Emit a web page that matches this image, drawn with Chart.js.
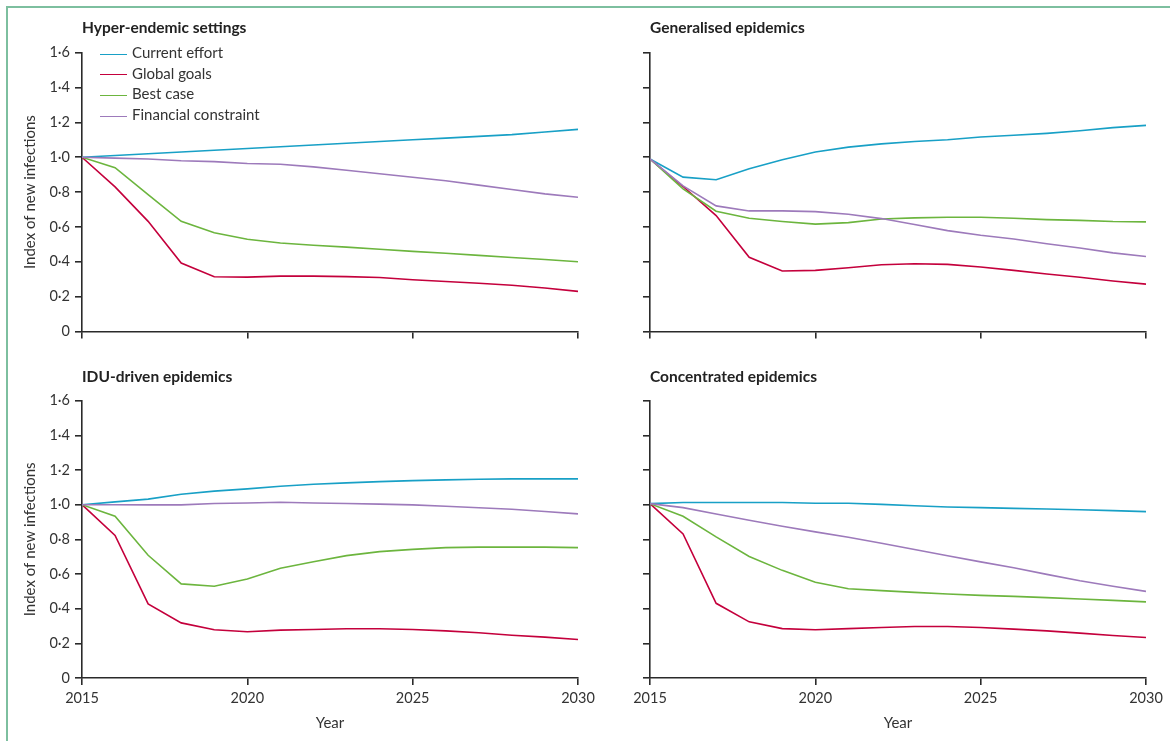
<!DOCTYPE html>
<html>
<head>
<meta charset="utf-8">
<script src="https://cdn.jsdelivr.net/npm/chart.js@4"></script>
<style>
  body { margin: 0; background: #fff; font-family: Lato, "Open Sans", sans-serif; }
  #page { position: relative; width: 1170px; height: 741px; overflow: hidden; }
  #frame { position: absolute; left: 6px; top: 6px; right: -4px; bottom: -4px;
           border-left: 2px solid #7dbf9f; border-top: 2px solid #7dbf9f; }
  canvas { position: absolute; }
  .title { position: absolute; font-weight: bold; font-size: 15.5px; color: #222; }
  #legend { position: absolute; left: 100px; top: 42px; font-size: 15px; color: #333; }
  #legend div { height: 20.7px; line-height: 20px; white-space: nowrap; }
  #legend span { display: inline-block; width: 27px; height: 0; border-top: 1.5px solid; vertical-align: middle; margin-right: 5px; }
</style>
</head>
<body>
<div id="page">
  <div id="frame"></div>
  <canvas id="c1"></canvas>
  <canvas id="c2"></canvas>
  <canvas id="c3"></canvas>
  <canvas id="c4"></canvas>
  <div class="title" style="left:82px;top:18px">Hyper-endemic settings</div>
  <div class="title" style="left:650px;top:18px">Generalised epidemics</div>
  <div class="title" style="left:82px;top:367px">IDU-driven epidemics</div>
  <div class="title" style="left:650px;top:367px">Concentrated epidemics</div>
  <div id="legend"></div>
</div>
<script>
const years = [2015, 2016, 2017, 2018, 2019, 2020, 2021, 2022, 2023, 2024, 2025, 2026, 2027, 2028, 2029, 2030]
const seriesNames = ['Current effort', 'Global goals', 'Best case', 'Financial constraint']
const seriesColors = ['#18a0c6', '#c4003c', '#6cb53e', '#9d7abb']

// Hyper-endemic settings
const hyperCurrent = [1.0, 1.01, 1.02, 1.03, 1.04, 1.05, 1.06, 1.07, 1.08, 1.09, 1.10, 1.11, 1.12, 1.13, 1.145, 1.16]
const hyperGoals = [1.0, 0.83, 0.632, 0.393, 0.314, 0.312, 0.318, 0.318, 0.315, 0.31, 0.297, 0.287, 0.277, 0.265, 0.25, 0.23]
const hyperBest = [1.0, 0.94, 0.785, 0.632, 0.567, 0.529, 0.508, 0.495, 0.484, 0.472, 0.46, 0.449, 0.437, 0.425, 0.413, 0.40]
const hyperFinance = [1.0, 0.995, 0.99, 0.98, 0.975, 0.964, 0.96, 0.945, 0.925, 0.905, 0.885, 0.865, 0.84, 0.815, 0.79, 0.77]

// Generalised epidemics
const genCurrent = [0.99, 0.886, 0.871, 0.934, 0.986, 1.03, 1.058, 1.077, 1.09, 1.10, 1.116, 1.126, 1.137, 1.152, 1.17, 1.183]
const genGoals = [0.99, 0.832, 0.665, 0.426, 0.347, 0.351, 0.366, 0.383, 0.389, 0.385, 0.37, 0.351, 0.33, 0.311, 0.29, 0.272]
const genBest = [0.99, 0.819, 0.69, 0.65, 0.631, 0.616, 0.625, 0.646, 0.652, 0.656, 0.656, 0.65, 0.642, 0.638, 0.631, 0.629]
const genFinance = [0.99, 0.836, 0.721, 0.692, 0.692, 0.688, 0.673, 0.648, 0.614, 0.579, 0.552, 0.531, 0.504, 0.479, 0.451, 0.43]

// IDU-driven epidemics
const iduCurrent = [1.0, 1.016, 1.032, 1.06, 1.078, 1.091, 1.106, 1.118, 1.126, 1.133, 1.139, 1.143, 1.147, 1.149, 1.149, 1.149]
const iduGoals = [1.0, 0.823, 0.428, 0.318, 0.278, 0.267, 0.276, 0.28, 0.284, 0.284, 0.28, 0.272, 0.261, 0.247, 0.236, 0.222]
const iduBest = [1.0, 0.934, 0.708, 0.543, 0.529, 0.571, 0.633, 0.671, 0.706, 0.729, 0.742, 0.752, 0.755, 0.755, 0.755, 0.752]
const iduFinance = [1.0, 1.0, 0.999, 0.999, 1.007, 1.01, 1.014, 1.01, 1.007, 1.003, 0.999, 0.991, 0.982, 0.974, 0.961, 0.947]

// Concentrated epidemics
const concCurrent = [1.006, 1.013, 1.013, 1.013, 1.013, 1.008, 1.008, 1.002, 0.994, 0.987, 0.983, 0.979, 0.975, 0.971, 0.966, 0.96]
const concGoals = [1.006, 0.831, 0.431, 0.324, 0.285, 0.278, 0.285, 0.291, 0.297, 0.297, 0.291, 0.282, 0.272, 0.259, 0.245, 0.234]
const concBest = [1.006, 0.933, 0.814, 0.701, 0.621, 0.552, 0.515, 0.504, 0.494, 0.485, 0.477, 0.471, 0.464, 0.456, 0.448, 0.439]
const concFinance = [1.006, 0.983, 0.946, 0.91, 0.876, 0.843, 0.812, 0.778, 0.741, 0.705, 0.67, 0.636, 0.598, 0.561, 0.529, 0.5]

const yMin = 0
const yMax = 1.6
const yStep = 0.2
const xStep = 5

const axisColor = '#2a2a2a'
const tickFont = { family: 'Lato, "Open Sans", sans-serif', size: 14.5 }
const titleFont = { family: 'Lato, "Open Sans", sans-serif', size: 15 }

function fmtIndex(v) {
  if (Math.abs(v) < 1e-9) return '0'
  return v.toFixed(1).replace('.', '\u00b7')
}

function makePanel(id, box, series, opts) {
  const canvas = document.getElementById(id)
  canvas.style.left = box.left + 'px'
  canvas.style.top = box.top + 'px'
  canvas.width = box.width
  canvas.height = box.height

  const datasets = series.map((vals, i) => ({
    label: seriesNames[i],
    data: years.map((yr, j) => ({ x: yr, y: vals[j] })),
    borderColor: seriesColors[i],
    borderWidth: 1.6,
    pointRadius: 0,
    tension: 0,
    fill: false
  }))
  // draw purple and green under blue/red like the print
  const order = [3, 2, 0, 1]
  datasets.forEach((d, i) => { d.order = order.indexOf(i) })

  return new Chart(canvas, {
    type: 'line',
    data: { datasets },
    options: {
      responsive: false,
      animation: false,
      events: [],
      layout: { padding: box.padding },
      plugins: { legend: { display: false }, tooltip: { enabled: false } },
      scales: {
        x: {
          type: 'linear',
          min: 2015,
          max: 2030,
          afterFit: s => { s.height = box.xHeight },
          border: { display: true, color: axisColor, width: 1.6 },
          grid: { drawOnChartArea: false, drawTicks: true, tickLength: 7, color: axisColor, lineWidth: 1.6 },
          ticks: {
            display: opts.xLabels,
            stepSize: xStep,
            padding: 5,
            color: '#333',
            font: tickFont,
            callback: v => String(v)
          },
          title: {
            display: opts.xLabels,
            text: 'Year',
            color: '#333',
            font: titleFont,
            padding: { top: 4, bottom: 8 }
          }
        },
        y: {
          min: yMin,
          max: yMax,
          afterFit: s => { s.width = box.yWidth },
          border: { display: true, color: axisColor, width: 1.6 },
          grid: { drawOnChartArea: false, drawTicks: true, tickLength: 7, color: axisColor, lineWidth: 1.6 },
          ticks: {
            display: opts.yLabels,
            stepSize: yStep,
            padding: 5,
            color: '#333',
            font: tickFont,
            callback: v => fmtIndex(v)
          },
          title: {
            display: opts.yLabels,
            text: 'Index of new infections',
            color: '#333',
            font: titleFont,
            padding: { top: 9, bottom: 0 }
          }
        }
      }
    }
  })
}

const topBox = { top: 0, height: 370, xHeight: 38.5 }
const botBox = { top: 350, height: 390, xHeight: 62 }

makePanel('c1', Object.assign({ left: 0, width: 600, yWidth: 70,
  padding: { left: 12, right: 22, top: 52.7, bottom: 0 } }, topBox),
  [hyperCurrent, hyperGoals, hyperBest, hyperFinance], { xLabels: false, yLabels: true })

makePanel('c2', Object.assign({ left: 570, width: 600, yWidth: 70,
  padding: { left: 10, right: 24, top: 52.7, bottom: 0 } }, topBox),
  [genCurrent, genGoals, genBest, genFinance], { xLabels: false, yLabels: false })

makePanel('c3', Object.assign({ left: 0, width: 600, yWidth: 70,
  padding: { left: 12, right: 22, top: 50.7, bottom: 0 } }, botBox),
  [iduCurrent, iduGoals, iduBest, iduFinance], { xLabels: true, yLabels: true })

makePanel('c4', Object.assign({ left: 570, width: 600, yWidth: 70,
  padding: { left: 10, right: 24, top: 50.7, bottom: 0 } }, botBox),
  [concCurrent, concGoals, concBest, concFinance], { xLabels: true, yLabels: false })

// legend in the first panel
const legend = document.getElementById('legend')
seriesNames.forEach((name, i) => {
  const row = document.createElement('div')
  const swatch = document.createElement('span')
  swatch.style.borderTopColor = seriesColors[i]
  row.appendChild(swatch)
  row.appendChild(document.createTextNode(name))
  legend.appendChild(row)
})
</script>
</body>
</html>
